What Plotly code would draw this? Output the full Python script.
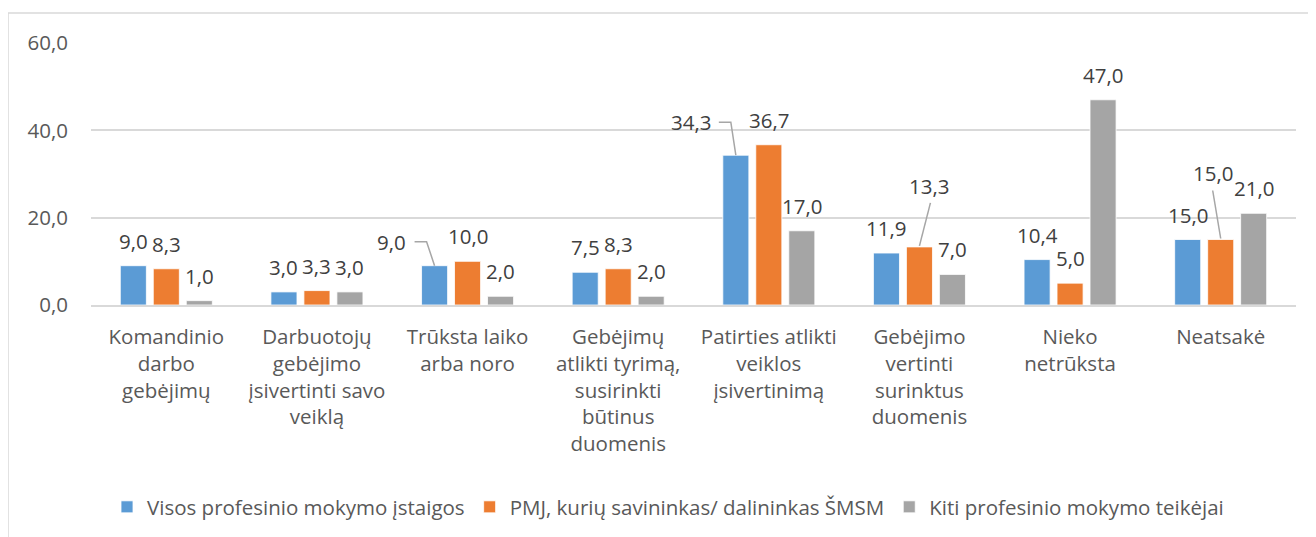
import plotly.graph_objects as go

categories = [
    "Komandinio<br>darbo<br>gebėjimų",
    "Darbuotojų<br>gebėjimo<br>įsivertinti savo<br>veiklą",
    "Trūksta laiko<br>arba noro",
    "Gebėjimų<br>atlikti tyrimą,<br>susirinkti<br>būtinus<br>duomenis",
    "Patirties atlikti<br>veiklos<br>įsivertinimą",
    "Gebėjimo<br>vertinti<br>surinktus<br>duomenis",
    "Nieko<br>netrūksta",
    "Neatsakė",
]
series_names = [
    "Visos profesinio mokymo įstaigos",
    "PMJ, kurių savininkas/ dalininkas ŠMSM",
    "Kiti profesinio mokymo teikėjai",
]
visos = [9.0, 3.0, 9.0, 7.5, 34.3, 11.9, 10.4, 15.0]
pmj = [8.3, 3.3, 10.0, 8.3, 36.7, 13.3, 5.0, 15.0]
kiti = [1.0, 3.0, 2.0, 2.0, 17.0, 7.0, 47.0, 21.0]
y_ticks = [0, 20, 40, 60]

colors = ["#5B9BD5", "#ED7D31", "#A5A5A5"]
FONT = "Open Sans"
FS = 20.5
BARGAP = 0.343
BARGROUPGAP = 0.21

# label offsets in pixels (dx, dy up) for specific (series, category) labels
DEFAULT_DY = 25
label_offsets = {
    (0, 2): (-43, 24),
    (0, 4): (-45, 33),
    (1, 5): (10, 61),
    (1, 7): (-8, 67),
}
# leader-line paths in pixels relative to bar top (y up)
leaders = {
    (0, 2): [(-20, 24), (-8, 24), (0, 0)],
    (0, 4): [(-17, 33), (-5, 33), (0, 0)],
    (1, 5): [(11, 44), (0, 1)],
    (1, 7): [(-8, 49), (0, 1)],
}

xs = list(range(len(categories)))
fig = go.Figure()
all_series = [visos, pmj, kiti]
for name, vals, col in zip(series_names, all_series, colors):
    fig.add_trace(go.Bar(x=xs, y=vals, name=name, marker_color=col,
                         marker_line_color="white", marker_line_width=0.8,
                         hoverinfo="skip"))

slot = (1 - BARGAP) / 3
annotations = []
shapes = []
for s, vals in enumerate(all_series):
    off = (s - 1) * slot
    for i, v in enumerate(vals):
        dx, dy = label_offsets.get((s, i), (0, DEFAULT_DY))
        annotations.append(dict(
            x=i + off, y=v, xref="x", yref="y", text=f"{v:.1f}".replace(".", ","),
            showarrow=False, xshift=dx, yshift=dy, yanchor="middle", xanchor="center",
            font=dict(family=FONT, size=FS, color="#404040")))
        if (s, i) in leaders:
            pts = leaders[(s, i)]
            path = "M " + " L ".join(f"{px},{py}" for px, py in pts)
            shapes.append(dict(type="path", xref="x", yref="y",
                               xsizemode="pixel", ysizemode="pixel",
                               xanchor=i + off, yanchor=v, path=path,
                               line=dict(color="#A6A6A6", width=1.5)))

# page body has an 8px margin; figure is laid out accordingly
W, H = 1308, 529
L, T = 83, 35
PW, PH = 1205, 262
R = W - L - PW
B = H - T - PH

# outer chart border
shapes.append(dict(type="rect", xref="paper", yref="paper",
                   x0=(0 - L) / PW, x1=(W + 20 - L) / PW,
                   y0=(PH - (H + 20 - T)) / PH, y1=(PH - (5 - T)) / PH,
                   line=dict(color="#D9D9D9", width=1.5), layer="below"))

fig.update_layout(
    width=W, height=H,
    margin=dict(l=L, r=R, t=T, b=B, autoexpand=False),
    paper_bgcolor="white", plot_bgcolor="white",
    barmode="group", bargap=BARGAP, bargroupgap=BARGROUPGAP,
    separators=", ",
    font=dict(family=FONT, size=FS, color="#595959"),
    annotations=annotations, shapes=shapes,
    legend=dict(orientation="h", x=(660 - L) / PW, xanchor="center",
                y=(PH - (499 - T)) / PH, yanchor="middle",
                font=dict(family=FONT, size=FS, color="#595959"),
                itemclick=False),
    showlegend=True,
)
fig.update_xaxes(range=[-0.5, len(categories) - 0.5], tickvals=xs, ticktext=categories,
                 showgrid=False, showline=True, linecolor="#D9D9D9", linewidth=1.5,
                 ticks="", ticklabelstandoff=13, tickangle=0, automargin=False,
                 tickfont=dict(family=FONT, size=FS, color="#595959"))
fig.update_yaxes(range=[0, 60], tickvals=y_ticks, tickformat=".1f",
                 showgrid=True, gridcolor="#D9D9D9", gridwidth=1.5, automargin=False,
                 zeroline=False, showline=False, ticks="", ticklabelstandoff=22,
                 tickfont=dict(family=FONT, size=FS, color="#595959"))

fig.write_html("out.html")
